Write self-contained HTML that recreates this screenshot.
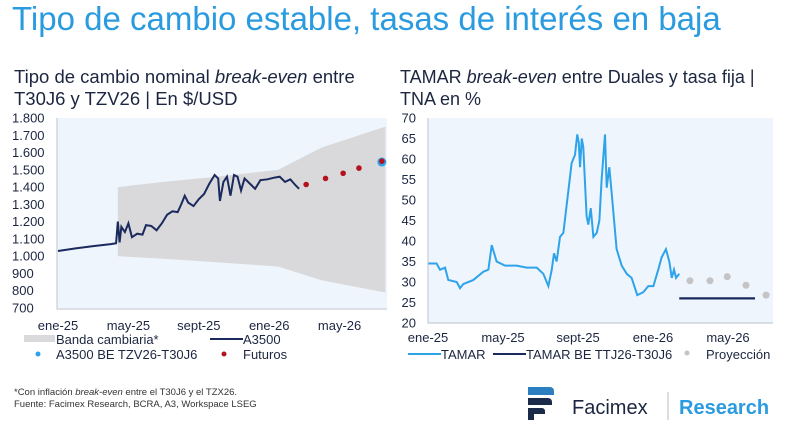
<!DOCTYPE html>
<html><head><meta charset="utf-8"><style>
body{margin:0;background:#fff;width:800px;height:442px;overflow:hidden;font-family:"Liberation Sans",sans-serif}
</style></head><body>
<svg id="s" width="800" height="442" xmlns="http://www.w3.org/2000/svg" style="font-family:'Liberation Sans',sans-serif">
<text x="12" y="30" font-size="33" fill="#2b9be0">Tipo de cambio estable, tasas de interés en baja</text>
<text x="14" y="83" font-size="18.5" fill="#1c2640">Tipo de cambio nominal <tspan font-style="italic">break-even</tspan> entre</text>
<text x="14" y="105" font-size="18.5" fill="#1c2640">T30J6 y TZV26 | En $/USD</text>
<text x="400" y="83" font-size="18" fill="#1c2640">TAMAR <tspan font-style="italic">break-even</tspan> entre Duales y tasa fija |</text>
<text x="400" y="105" font-size="18" fill="#1c2640">TNA en %</text>
<g id="L"></g><g id="R"></g>
<text x="14" y="395" font-size="9.5" fill="#333">*Con inflación <tspan font-style="italic">break-even</tspan> entre el T30J6 y el TZX26.</text>
<text x="14" y="407" font-size="9.5" fill="#333">Fuente: Facimex Research, BCRA, A3, Workspace LSEG</text>
<g>
<path d="M528 387 h22 a4 4 0 0 1 4 4 v4 h-26z" fill="#2b7fc0"/>
<path d="M528 398 h20 a4 4 0 0 1 4 4 v3 h-24z" fill="#1c2a4a"/>
<path d="M528 408 h14 a3 3 0 0 1 3 3 v3 h-17z" fill="#1c2a4a"/>
<rect x="528" y="408" width="6" height="12" fill="#1c2a4a"/>
</g>
<text x="572" y="414" font-size="20" fill="#1c2640">Facimex</text>
<line x1="668" y1="392" x2="668" y2="420" stroke="#bbb"/>
<text x="679" y="414" font-size="20" font-weight="bold" fill="#2b9be0">Research</text>
</svg>
<script>
const NS="http://www.w3.org/2000/svg";
// Left chart data
const lTicks=[700,800,900,1000,1100,1200,1300,1400,1500,1600,1700,1800];
const lCats=["ene-25","may-25","sept-25","ene-26","may-26"];
const lCatMonths=[0,4,8,12,16];
const bandMonths=[3.4,6,9,12.5,15,18.6];
const bandUpper=[1400,1430,1460,1500,1630,1750];
const bandLower=[1000,985,965,940,860,790];
const a3500Months=[0,1,2,3,3.3,3.4,3.5,3.6,3.8,4.0,4.2,4.5,4.8,5.0,5.3,5.6,5.9,6.2,6.5,6.8,7.0,7.2,7.4,7.7,8.0,8.3,8.6,8.9,9.1,9.2,9.4,9.6,9.8,10.0,10.2,10.4,10.6,10.9,11.2,11.5,11.9,12.3,12.6,12.9,13.2,13.5,13.7];
const a3500Values=[1030,1045,1058,1070,1075,1200,1080,1170,1140,1190,1110,1130,1125,1180,1175,1150,1190,1240,1260,1255,1300,1350,1310,1290,1330,1360,1420,1470,1450,1320,1430,1460,1350,1470,1460,1380,1450,1420,1390,1440,1445,1455,1460,1430,1445,1410,1390];
const futMonths=[14.1,15.2,16.2,17.1,18.4];
const futValues=[1415,1450,1480,1510,1550];
const beMonth=[18.4];
const beValue=[1545];
// Right chart data
const rTicks=[20,25,30,35,40,45,50,55,60,65,70];
const rCats=["ene-25","may-25","sept-25","ene-26","may-26"];
const rCatMonths=[0,4,8,12,16];
const tamarMonths=[0.02,0.46,0.64,0.91,1.08,1.53,1.71,1.88,2.42,2.95,3.22,3.40,3.66,4.11,4.73,5.26,5.80,6.15,6.42,6.60,6.72,6.86,7.04,7.22,7.48,7.66,7.84,7.96,8.04,8.11,8.20,8.28,8.46,8.55,8.68,8.82,9.00,9.14,9.26,9.44,9.53,9.67,9.79,10.06,10.33,10.60,10.86,11.04,11.16,11.48,11.75,12.02,12.28,12.46,12.69,12.87,13.00,13.12,13.23,13.40];
const tamarValues=[34.5,34.5,33,33.5,30.5,30,28.5,29.5,30.5,32.5,33,39,35,34,34,33.5,33.5,32,29,33,37,35,41,42,52,59,61,66,64,58,65,63,46,44,48,41,42,45,55,66,53,58,52,38,34,32,31,28.5,26.8,27.5,29,29,33,36,38,35,31,33,31,32];
const beLineMonths=[13.4,17.44];
const beLineValues=[26,26];
const projMonths=[13.97,15.04,15.96,16.96,18.03];
const projValues=[30.3,30.3,31.3,29.2,26.8];

function el(p,t,a,txt){const e=document.createElementNS(NS,t);for(const k in a)e.setAttribute(k,a[k]);if(txt!==undefined)e.textContent=txt;p.appendChild(e);return e;}
const FS=13;
// Left axes
const L=document.getElementById('L');
const lx=m=>58+m*17.6, ly=v=>308-(v-700)*(190/1100);
let r=el(L,'rect',{x:57,y:118,width:330,height:190,fill:'#eef5fc'});


let d='M'+bandMonths.map((m,i)=>lx(m)+','+ly(bandUpper[i])).join('L')+'L'+bandMonths.map((m,i)=>lx(m)+','+ly(bandLower[i])).reverse().join('L')+'Z';
let band=el(L,'path',{d:d,fill:'#d9d9db'});


let ax=el(L,'path',{d:'M57 118V309H387',fill:'none',stroke:'#c8cdd4','stroke-width':1.2});


lTicks.forEach(v=>{const t=el(L,'text',{x:12,y:ly(v)+4.5,'font-size':FS,fill:'#1c2640'},v>=1000?(v/1000).toFixed(3):String(v));

});
lCats.forEach((c,i)=>{const t=el(L,'text',{x:lx(lCatMonths[i]),y:330,'font-size':FS,fill:'#1c2640','text-anchor':'middle'},c);

});
let ln=el(L,'path',{d:'M'+a3500Months.map((m,i)=>lx(m)+','+ly(a3500Values[i])).join('L'),fill:'none',stroke:'#1a2a5e','stroke-width':2});


beMonth.forEach((m,i)=>{const c=el(L,'circle',{cx:lx(m),cy:ly(beValue[i]),r:4.5,fill:'#2ea3ea'});

});
futMonths.forEach((m,i)=>{const c=el(L,'circle',{cx:lx(m),cy:ly(futValues[i]),r:2.8,fill:'#b3121e'});

});
// left legend
let g=el(L,'rect',{x:24,y:335,width:31,height:7,fill:'#d9d9db'});
el(L,'text',{x:56,y:344,'font-size':FS,fill:'#1c2640'},'Banda cambiaria*');
g=el(L,'line',{x1:210,y1:339,x2:243,y2:339,stroke:'#1a2a5e','stroke-width':2});
el(L,'text',{x:243,y:344,'font-size':FS,fill:'#1c2640'},'A3500');
g=el(L,'circle',{cx:38,cy:354,r:2.5,fill:'#2ea3ea'});
el(L,'text',{x:56,y:359,'font-size':FS,fill:'#1c2640'},'A3500 BE TZV26-T30J6');
g=el(L,'circle',{cx:224,cy:354,r:2.5,fill:'#b3121e'});
el(L,'text',{x:243,y:359,'font-size':FS,fill:'#1c2640'},'Futuros');
// Right
const R=document.getElementById('R');
const rx=m=>428+m*18.75, ry=v=>323-(v-20)*(205/50);
r=el(R,'rect',{x:428,y:118,width:345,height:205,fill:'#eef5fc'});


ax=el(R,'path',{d:'M428 118V323H773',fill:'none',stroke:'#c8cdd4','stroke-width':1.2});


rTicks.forEach(v=>{const t=el(R,'text',{x:416,y:ry(v)+4.5,'font-size':FS,fill:'#1c2640','text-anchor':'end'},String(v));

});
rCats.forEach((c,i)=>{const t=el(R,'text',{x:rx(rCatMonths[i]),y:342,'font-size':FS,fill:'#1c2640','text-anchor':'middle'},c);

});
ln=el(R,'path',{d:'M'+tamarMonths.map((m,i)=>rx(m)+','+ry(tamarValues[i])).join('L'),fill:'none',stroke:'#2ea3ea','stroke-width':2});


ln=el(R,'path',{d:'M'+beLineMonths.map((m,i)=>rx(m)+','+ry(beLineValues[i])).join('L'),fill:'none',stroke:'#1a2a5e','stroke-width':2.2});


projMonths.forEach((m,i)=>{const c=el(R,'circle',{cx:rx(m),cy:ry(projValues[i]),r:3.5,fill:'#c4c4c6'});

});
g=el(R,'line',{x1:408,y1:354,x2:441,y2:354,stroke:'#2ea3ea','stroke-width':2});
el(R,'text',{x:441,y:359,'font-size':FS,fill:'#1c2640'},'TAMAR');
g=el(R,'line',{x1:493,y1:354,x2:526,y2:354,stroke:'#1a2a5e','stroke-width':2});
el(R,'text',{x:526,y:359,'font-size':FS,fill:'#1c2640'},'TAMAR BE TTJ26-T30J6');
g=el(R,'circle',{cx:687,cy:353,r:2.5,fill:'#c4c4c6'});
el(R,'text',{x:706,y:359,'font-size':FS,fill:'#1c2640'},'Proyección');
</script>
</body></html>
